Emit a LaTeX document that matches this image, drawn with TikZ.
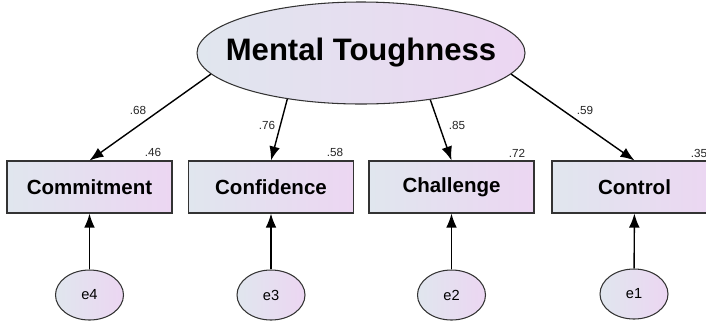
\documentclass[tikz,border=0pt]{standalone}
\usepackage{fontspec}
\setmainfont{Liberation Sans}
\usetikzlibrary{arrows.meta,shapes}
\definecolor{semleft}{RGB}{224,230,238}
\definecolor{semright}{RGB}{236,214,242}
\tikzstyle{latent}=[ellipse,draw=black!80,line width=0.9pt,left color=semleft,right color=semright,minimum width=9.84cm,minimum height=3.06cm,inner sep=0pt]
\tikzstyle{observed}=[rectangle,draw=black!80,line width=0.9pt,left color=semleft,right color=semright,minimum width=4.95cm,minimum height=1.56cm,inner sep=0pt,font=\fontsize{17.5}{20}\selectfont\bfseries]
\tikzstyle{error}=[ellipse,draw=black!80,line width=0.9pt,left color=semleft,right color=semright,minimum width=2.04cm,minimum height=1.5cm,inner sep=0pt,font=\fontsize{12.5}{14}\selectfont]
\tikzstyle{coef}=[inner sep=0pt,text=black!85,font=\fontsize{10}{12}\selectfont]
\tikzstyle{path}=[draw,line width=1.2pt,-{Latex[length=4.2mm,width=3.2mm]}]

\begin{document}
\begin{tikzpicture}[x=0.03cm,y=-0.03cm]
    \useasboundingbox (0,0) rectangle (706,322);
    % The factor on top
    \node[latent,label={[font=\fontsize{26.5}{30}\selectfont\bfseries]center:Mental Toughness}] (MT) at (361,53) {};

    % Then the four indicators and their errors
    \foreach \pos/\name in {{(89.5,187)/Commitment}, {(271,187)/Confidence}, {(451.5,187)/Challenge}, {(634.5,187)/Control}}
        \node[observed] (\name) at \pos {\name};
    \foreach \pos/\name in {{(89.5,295)/e4}, {(271,295)/e3}, {(451.5,295)/e2}, {(634,294)/e1}}
        \node[error] (\name) at \pos {\name};

    % Loadings from the factor
    \foreach \ang/\dest in {188/Commitment, 212/Confidence, 326/Challenge, 352/Control}
        \path[path] (MT.\ang) -- (\dest.north);

    % Errors into the indicators
    \foreach \source/\dest in {e4/Commitment, e3/Confidence, e2/Challenge, e1/Control}
        \path[path] (\source) -- (\dest);

    % Standardised estimates
    \foreach \pos/\val/\name in {{(138,110)/.68/l1}, {(267,125)/.76/l2}, {(457,125)/.85/l3}, {(585,110)/.59/l4}, {(153,152)/.46/r1}, {(335,152)/.58/r2}, {(517,153)/.72/r3}, {(699,153)/.35/r4}}
        \node[coef] (\name) at \pos {\val};
\end{tikzpicture}
\end{document}
